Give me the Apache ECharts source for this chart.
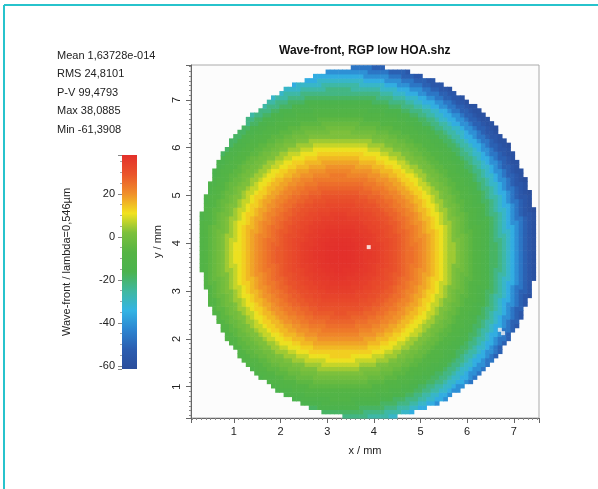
<!DOCTYPE html>
<html><head><meta charset="utf-8">
<script src="https://cdn.jsdelivr.net/npm/echarts@6/dist/echarts.min.js"></script>
<style>html,body{margin:0;padding:0;background:#fff}#c{width:598px;height:489px}</style>
</head><body><div id="c"></div>
<script>
// ---------- data ----------
const chartTitle = 'Wave-front, RGP low HOA.shz';
const statLines = ['Mean 1,63728e-014', 'RMS 24,8101', 'P-V 99,4793', 'Max 38,0885', 'Min -61,3908'];
const colorbarName = 'Wave-front / lambda=0,546µm';
const xName = 'x / mm';
const yName = 'y / mm';
const valueMin = -61.3908;
const valueMax = 38.0885;
// wave-front value read along the radius (mm) from the peak, one value every 0.1 mm
const profileStep = 0.1;
const profileValues = [
  38.1, 38.0, 37.8, 37.5, 37.1, 36.6, 36.0, 35.2, 34.3, 33.3,
  32.2, 31.0, 29.7, 28.3, 26.8, 25.2, 23.5, 21.7, 19.8, 17.8,
  15.6, 13.2, 10.5, 7.5, 4.6, 2.0, -0.4, -2.8, -5.2, -7.6,
  -10.0, -12.5, -15.5, -18.5, -22.0, -26.0, -30.5, -35.5, -41.0, -46.5,
  -51.5, -55.5, -58.5, -60.5, -61.4
];
const peakCenter = [3.27, 3.79];      // mm
const pupilCenter = [3.88, 4.02];     // mm
const pupilRadius = [3.62, 3.68];     // mm (x, y)
const sampleStep = 0.09;              // mm, measurement grid pitch
const sampleStartX = 0.13, sampleEndX = 7.45;
const sampleStartY = 0.39, sampleEndY = 7.72;
const holeCells = [[6.70, 2.19], [6.77, 2.12]];
const centerMark = [[3.89, 3.92]];
// colour map, evenly spaced from valueMin (first) to valueMax (last)
const colorMap = ['#2a4d9b', '#2b5db0', '#2c84d0', '#33b4e4', '#3fb8a0', '#4bb34e',
                  '#55b444', '#7cc03c', '#f2e21e', '#f0902a', '#ea552b', '#e3302b'];

// ---------- build grid of cells ----------
const cells = [];
const nx = Math.round((sampleEndX - sampleStartX) / sampleStep);
const ny = Math.round((sampleEndY - sampleStartY) / sampleStep);
for (let i = 0; i <= nx; i++) {
  const x = +(sampleStartX + i * sampleStep).toFixed(3);
  for (let j = 0; j <= ny; j++) {
    const y = +(sampleStartY + j * sampleStep).toFixed(3);
    const ex = (x - pupilCenter[0]) / pupilRadius[0];
    const ey = (y - pupilCenter[1]) / pupilRadius[1];
    if (ex * ex + ey * ey > 1) continue;
    const rho = Math.hypot(x - peakCenter[0], y - peakCenter[1]);
    const k = Math.min(Math.round(rho / profileStep), profileValues.length - 1);
    cells.push([x, y, profileValues[k]]);
  }
}

const chart = echarts.init(document.getElementById('c'));
const FONT = 'Liberation Sans, Arial, sans-serif';
const gradStops = colorMap.map((c, i) => ({ offset: 1 - i / (colorMap.length - 1), color: c }));

chart.setOption({
  animation: false,
  backgroundColor: '#fff',
  title: {
    text: chartTitle, left: 279, top: 45, padding: 0,
    textStyle: { fontFamily: FONT, fontSize: 12, fontWeight: 'bold', color: '#111' }
  },
  graphic: [
    { type: 'line', shape: { x1: 4, y1: 5, x2: 598, y2: 5 }, style: { stroke: '#27c3cc', lineWidth: 2 } },
    { type: 'line', shape: { x1: 4, y1: 5, x2: 4, y2: 489 }, style: { stroke: '#27c3cc', lineWidth: 2 } },
    ...statLines.map((t, i) => ({
      type: 'text', x: 57, y: 55.5 + i * 18.5,
      style: { text: t, font: '11px ' + FONT, fill: '#222', textVerticalAlign: 'middle' }
    }))
  ],
  visualMap: {
    type: 'continuous', show: false, min: valueMin, max: valueMax,
    dimension: 2, seriesIndex: 0, inRange: { color: colorMap }
  },
  grid: [
    { left: 191, top: 65, width: 348, height: 353, show: true, borderColor: '#aaa', borderWidth: 1, backgroundColor: '#fcfcfc' },
    { left: 122, top: 155, width: 15, height: 214, show: true, borderWidth: 0,
      backgroundColor: { type: 'linear', x: 0, y: 0, x2: 0, y2: 1, colorStops: gradStops } }
  ],
  xAxis: [
    { type: 'value', gridIndex: 0, min: 0.08, max: 7.54, splitNumber: 7,
      name: xName, nameLocation: 'middle', nameGap: 27,
      nameTextStyle: { fontFamily: FONT, fontSize: 11, color: '#222' },
      axisLine: { lineStyle: { color: '#666' } },
      axisTick: { length: 5, lineStyle: { color: '#666' } },
      minorTick: { show: true, splitNumber: 10, length: 2, lineStyle: { color: '#888' } },
      axisLabel: { showMinLabel: false, showMaxLabel: false, margin: 8, fontFamily: FONT, fontSize: 11, color: '#222' },
      splitLine: { show: false } },
    { type: 'value', gridIndex: 1, show: false, min: 0, max: 1 }
  ],
  yAxis: [
    { type: 'value', gridIndex: 0, min: 0.345, max: 7.73, splitNumber: 7,
      name: yName, nameLocation: 'middle', nameGap: 26,
      nameTextStyle: { fontFamily: FONT, fontSize: 11, color: '#222' },
      axisLine: { lineStyle: { color: '#666' } },
      axisTick: { length: 5, lineStyle: { color: '#666' } },
      minorTick: { show: true, splitNumber: 10, length: 2, lineStyle: { color: '#888' } },
      axisLabel: { rotate: 90, showMinLabel: false, showMaxLabel: false, margin: 9, fontFamily: FONT, fontSize: 11, color: '#222' },
      splitLine: { show: false } },
    { type: 'value', gridIndex: 1, min: valueMin, max: valueMax, splitNumber: 5,
      name: colorbarName, nameLocation: 'middle', nameGap: 50,
      nameTextStyle: { fontFamily: FONT, fontSize: 11, color: '#222' },
      axisLine: { show: false },
      axisTick: { length: 4, lineStyle: { color: '#888' } },
      minorTick: { show: true, splitNumber: 4, length: 2, lineStyle: { color: '#aaa' } },
      axisLabel: { showMinLabel: false, showMaxLabel: false, margin: 7, fontFamily: FONT, fontSize: 11, color: '#222' },
      splitLine: { show: false } }
  ],
  series: [
    {
      type: 'custom', xAxisIndex: 0, yAxisIndex: 0, data: cells, clip: true,
      encode: { x: 0, y: 1 },
      renderItem: function (params, api) {
        const p = api.coord([api.value(0), api.value(1)]);
        const s = api.size([sampleStep, sampleStep]);
        return {
          type: 'rect',
          shape: { x: p[0] - s[0] / 2, y: p[1] - s[1] / 2, width: s[0] + 0.6, height: s[1] + 0.6 },
          style: { fill: api.visual('color') }
        };
      }
    },
    { type: 'scatter', xAxisIndex: 0, yAxisIndex: 0, data: holeCells, symbol: 'rect', symbolSize: 4,
      itemStyle: { color: '#f4f4f4' }, z: 5 },
    { type: 'scatter', xAxisIndex: 0, yAxisIndex: 0, data: centerMark, symbol: 'rect', symbolSize: 4,
      itemStyle: { color: '#ffffff' }, z: 5 }
  ]
});
</script></body></html>
